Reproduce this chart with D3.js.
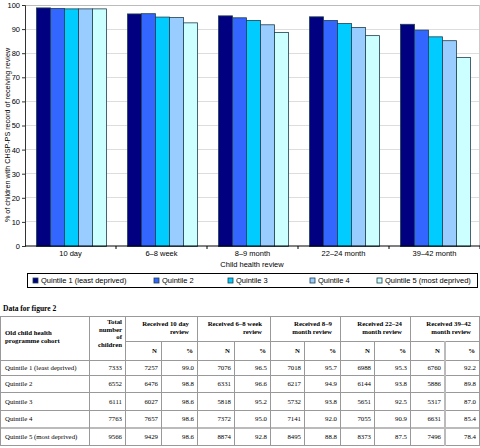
<!DOCTYPE html>
<html><head><meta charset="utf-8">
<script src="https://cdn.jsdelivr.net/npm/d3@7"></script>
<style>body{margin:0;background:#fff}svg{display:block}</style>
</head><body><svg id="c" width="480" height="448"></svg>
<script>
const categories = ["10 day","6–8 week","8–9 month","22–24 month","39–42 month"];
const series = ["Quintile 1 (least deprived)","Quintile 2","Quintile 3","Quintile 4","Quintile 5 (most deprived)"];
const colors = ["#000080","#3366ff","#00ccff","#99ccff","#ccffff"];
// percentages per series (rows) per review (cols)
const q1 = [99.0,96.5,95.7,95.3,92.2];
const q2 = [98.8,96.6,94.9,93.8,89.8];
const q3 = [98.6,95.2,93.8,92.5,87.0];
const q4 = [98.6,95.0,92.0,90.9,85.4];
const q5 = [98.6,92.8,88.8,87.5,78.4];
const pct = [q1,q2,q3,q4,q5];
const totals = [7333,6552,6111,7763,9566];
const n10day = [7257,6476,6027,7657,9429];
const n68week = [7076,6331,5818,7372,8874];
const n89month = [7018,6217,5732,7141,8495];
const n2224month = [6988,6144,5651,7055,8373];
const n3942month = [6760,5886,5317,6631,7496];
const nCols = [n10day,n68week,n89month,n2224month,n3942month];
const yTicks = [0,10,20,30,40,50,60,70,80,90,100];
const tableHeaders = ["Received 10 day|review","Received 6–8 week|review","Received 8–9|month review","Received 22–24|month review","Received 39–42|month review"];

const svg = d3.select("#c");
const sans = "Liberation Sans, Arial, sans-serif";
const serif = "Liberation Serif, Times New Roman, serif";

// ---- chart ----
const L=25, R=479, T=5, B=246;
const y = d3.scaleLinear().domain([0,100]).range([B,T]);
const x0 = d3.scaleBand().domain(categories).range([L,480]);
const x1 = d3.scaleBand().domain(series).range([11,81]);

// grid
svg.append("g").selectAll("line").data(yTicks.filter(d=>d>0)).join("line")
  .attr("x1",L).attr("x2",R).attr("y1",d=>y(d)).attr("y2",d=>y(d))
  .attr("stroke",d=>d===100?"#bbb":"#ddd").attr("stroke-width",1).attr("shape-rendering","crispEdges");
svg.append("line").attr("x1",R).attr("x2",R).attr("y1",T).attr("y2",B)
  .attr("stroke","#ccc").attr("shape-rendering","crispEdges");

// bars
const gGroups = svg.append("g").selectAll("g").data(categories).join("g")
  .attr("transform",d=>`translate(${x0(d)},0)`);
gGroups.selectAll("rect").data((c,ci)=>series.map((s,si)=>({s,si,v:pct[si][ci]}))).join("rect")
  .attr("x",d=>x1(d.s)+0.5).attr("width",x1.bandwidth())
  .attr("y",d=>y(d.v)+0.5).attr("height",d=>B-y(d.v))
  .attr("fill",d=>colors[d.si]).attr("stroke","#1f3f4f").attr("stroke-width",0.8);

// axes
const yAxis = d3.axisLeft(y).tickValues(yTicks).tickSize(3).tickPadding(2);
const gy = svg.append("g").attr("transform",`translate(${L},0)`).call(yAxis);
gy.select(".domain").attr("stroke","#333");
gy.selectAll("text").attr("font-family",sans).attr("font-size",7.5).attr("fill","#000");
gy.selectAll("line").attr("stroke","#333");

const gx = svg.append("g").attr("transform",`translate(0,${B})`);
gx.append("line").attr("x1",L).attr("x2",480).attr("stroke","#000");
gx.selectAll("line.tk").data(categories).join("line").attr("class","tk")
  .attr("x1",d=>x0(d)+x0.bandwidth()).attr("x2",d=>x0(d)+x0.bandwidth()).attr("y1",0).attr("y2",3).attr("stroke","#000");
gx.selectAll("text").data(categories).join("text")
  .attr("x",d=>x0(d)+x0.bandwidth()/2).attr("y",10).attr("text-anchor","middle")
  .attr("font-family",sans).attr("font-size",7.5).text(d=>d);
svg.append("text").attr("x",252).attr("y",267).attr("text-anchor","middle")
  .attr("font-family",sans).attr("font-size",7.5).text("Child health review");
svg.append("text").attr("transform","translate(10,135) rotate(-90)").attr("text-anchor","middle")
  .attr("font-family",sans).attr("font-size",7.2).text("% of children with CHSP-PS record of receiving review");

// legend
svg.append("rect").attr("x",27.5).attr("y",273.5).attr("width",450).attr("height",14)
  .attr("fill","#fff").attr("stroke","#000").attr("stroke-width",1);
const legX = [33,154,228,310,377];
const lg = svg.append("g").selectAll("g").data(series).join("g")
  .attr("transform",(d,i)=>`translate(${legX[i]},280.5)`);
lg.append("rect").attr("x",0).attr("y",-2.5).attr("width",5).attr("height",5)
  .attr("fill",(d,i)=>colors[i]).attr("stroke","#1f3f4f").attr("stroke-width",0.8);
lg.append("text").attr("x",8).attr("y",2.7).attr("font-family",sans).attr("font-size",7.5).text(d=>d);

// ---- table ----
svg.append("text").attr("x",3).attr("y",311).attr("font-family",serif).attr("font-weight","bold")
  .attr("font-size",7.5).text("Data for figure 2");
const edges = [0,89,125,161,197,234,270,304,340,374,410,444,479];
const tTop=316, hMid=341, hBot=360;
const rowEdges=[360,375,392,410,427,445];
const tl = svg.append("g").attr("stroke","#999").attr("stroke-width",1).attr("shape-rendering","crispEdges");
tl.append("line").attr("x1",edges[0]+0.5).attr("x2",edges[12]+0.5).attr("y1",tTop+0.5).attr("y2",tTop+0.5);
tl.append("line").attr("x1",edges[2]).attr("x2",edges[12]).attr("y1",hMid+0.5).attr("y2",hMid+0.5);
tl.selectAll("line.rh").data(rowEdges).join("line").attr("class","rh")
  .attr("x1",edges[0]+0.5).attr("x2",edges[12]+0.5).attr("y1",d=>d+0.5).attr("y2",d=>d+0.5)
  .attr("stroke-width",(d,i)=>i===4?2:1).attr("stroke",(d,i)=>i===4?"#bbb":"#999");
const fullV=[0,1,2,4,6,8,10,12];
tl.selectAll("line.vf").data(fullV).join("line").attr("class","vf")
  .attr("x1",i=>edges[i]+0.5).attr("x2",i=>edges[i]+0.5).attr("y1",tTop).attr("y2",445.5);
tl.selectAll("line.vs").data([3,5,7,9,11]).join("line").attr("class","vs")
  .attr("x1",i=>edges[i]+0.5).attr("x2",i=>edges[i]+0.5).attr("y1",hMid).attr("y2",445.5)
  .attr("stroke-width",i=>i===11?2:1).attr("stroke",i=>i===11?"#bbb":"#999");

const tt = svg.append("g").attr("font-family",serif).attr("font-size",6.8).attr("fill","#000");
const hb = tt.append("g").attr("font-weight","bold");
hb.append("text").attr("x",5).attr("y",335).text("Old child health");
hb.append("text").attr("x",5).attr("y",343).text("programme cohort");
["Total","number","of","children"].forEach((t,i)=>hb.append("text").attr("x",edges[2]-3).attr("y",324+i*7.7).attr("text-anchor","end").text(t));
tableHeaders.forEach((h,i)=>{
  const parts=h.split("|");
  parts.forEach((p,j)=>hb.append("text").attr("x",edges[4+2*i]-8).attr("y",326+j*8).attr("text-anchor","end").text(p));
  hb.append("text").attr("x",edges[3+2*i]-4).attr("y",353).attr("text-anchor","end").text("N");
  hb.append("text").attr("x",edges[4+2*i]-4).attr("y",353).attr("text-anchor","end").text("%");
});
series.forEach((s,r)=>{
  const cy=(rowEdges[r]+rowEdges[r+1])/2+2.5;
  tt.append("text").attr("x",5).attr("y",cy).text(s);
  tt.append("text").attr("x",edges[2]-3).attr("y",cy).attr("text-anchor","end").text(totals[r]);
  nCols.forEach((col,c)=>{
    tt.append("text").attr("x",edges[3+2*c]-3).attr("y",cy).attr("text-anchor","end").text(col[r]);
    tt.append("text").attr("x",edges[4+2*c]-3).attr("y",cy).attr("text-anchor","end").text(pct[r][c].toFixed(1));
  });
});
</script></body></html>
